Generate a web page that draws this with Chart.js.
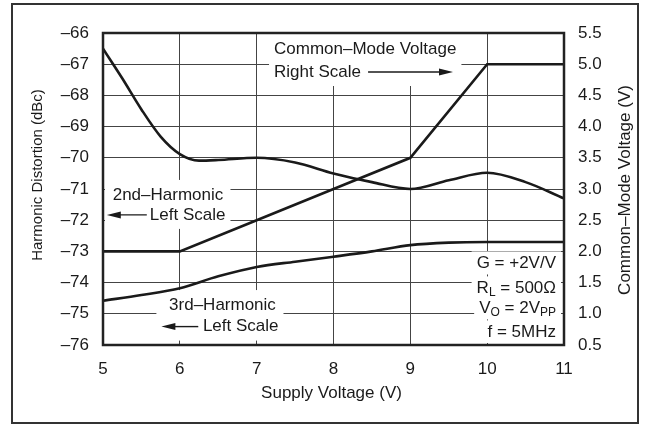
<!DOCTYPE html>
<html>
<head>
<meta charset="utf-8">
<script src="https://cdn.jsdelivr.net/npm/chart.js@4"></script>
<style>
  html, body { margin: 0; padding: 0; background: #fff; }
  #wrap { width: 645px; height: 425px; position: relative; }
</style>
</head>
<body>
<div id="wrap"><canvas id="chart"></canvas></div>
<script>
// supply voltage (V) vs. harmonic distortion (dBc, left) and common-mode voltage (V, right)
const h2X = [5, 5.25, 5.5, 5.75, 6, 6.25, 6.5, 7, 7.5, 8, 8.5, 9, 9.5, 10, 10.5, 11];
const h2Y = [-66.5, -67.45, -68.45, -69.32, -69.88, -70.09, -70.07, -70.0, -70.15, -70.5, -70.78, -71.0, -70.72, -70.48, -70.78, -71.3];

const h3X = [5, 5.5, 6, 6.5, 7, 7.5, 8, 8.5, 9, 9.5, 10, 10.5, 11];
const h3Y = [-74.58, -74.4, -74.18, -73.8, -73.5, -73.33, -73.17, -73.0, -72.8, -72.72, -72.7, -72.7, -72.7];

const cmX = [5, 6, 7, 8, 9, 10, 11];
const cmY = [2.0, 2.0, 2.5, 3.0, 3.5, 5.0, 5.0];

const xTicks = [5, 6, 7, 8, 9, 10, 11];
const leftTicks = [-76, -75, -74, -73, -72, -71, -70, -69, -68, -67, -66];
const rightTicks = [0.5, 1.0, 1.5, 2.0, 2.5, 3.0, 3.5, 4.0, 4.5, 5.0, 5.5];

const FAMILY = '"Liberation Sans", Arial, sans-serif';
const FONT = '17px ' + FAMILY;
const SUB_FONT = '12px ' + FAMILY;
const INK = '#1a1a1a';

// annotation blocks, positioned in data units (x, left scale)
const notes = [
  { lines: [
      { x: 7.226, y: -66.51, parts: [{ t: 'Common–Mode Voltage' }] },
      { x: 7.226, y: -67.25, parts: [{ t: 'Right Scale' }] }
    ],
    arrow: { from: 8.45, to: 9.555, y: -67.25 } },
  { lines: [
      { x: 5.126, y: -71.19, parts: [{ t: '2nd–Harmonic' }] },
      { x: 5.61, y: -71.83, parts: [{ t: 'Left Scale' }] }
    ],
    arrow: { from: 5.57, to: 5.05, y: -71.83 } },
  { lines: [
      { x: 5.86, y: -74.72, parts: [{ t: '3rd–Harmonic' }] },
      { x: 6.30, y: -75.41, parts: [{ t: 'Left Scale' }] }
    ],
    arrow: { from: 6.24, to: 5.76, y: -75.41 } },
  { lines: [{ x: 10.896, y: -73.37, right: true, parts: [{ t: 'G = +2V/V' }] }] },
  { lines: [{ x: 10.896, y: -74.17, right: true, parts: [{ t: 'R' }, { t: 'L', sub: true }, { t: ' = 500Ω' }] }] },
  { lines: [{ x: 10.896, y: -74.81, right: true, parts: [{ t: 'V' }, { t: 'O', sub: true }, { t: ' = 2V' }, { t: 'PP', sub: true }] }] },
  { lines: [{ x: 10.896, y: -75.58, right: true, parts: [{ t: 'f = 5MHz' }] }] }
];

function partsWidth(ctx, parts) {
  let w = 0;
  parts.forEach(p => {
    ctx.font = p.sub ? SUB_FONT : FONT;
    w += ctx.measureText(p.t).width;
  });
  return w;
}

const notesPlugin = {
  id: 'notes',
  beforeDraw(chart) {
    const ctx = chart.ctx;
    ctx.save();
    ctx.strokeStyle = '#333';
    ctx.lineWidth = 2;
    ctx.strokeRect(12, 4, 626, 419);
    ctx.restore();
  },
  beforeDatasetsDraw(chart) {
    const { ctx, chartArea: ca } = chart;
    const x = chart.scales.x, y = chart.scales.y;
    ctx.save();
    ctx.textBaseline = 'middle';
    notes.forEach(n => {
      let l = Infinity, r = -Infinity, t = Infinity, b = -Infinity;
      n.lines.forEach(ln => {
        ln._w = partsWidth(ctx, ln.parts);
        const px = x.getPixelForValue(ln.x);
        ln._l = ln.right ? px - ln._w : px;
        ln._y = y.getPixelForValue(ln.y);
        l = Math.min(l, ln._l); r = Math.max(r, ln._l + ln._w);
        t = Math.min(t, ln._y); b = Math.max(b, ln._y);
      });
      if (n.arrow) {
        const a0 = x.getPixelForValue(n.arrow.from), a1 = x.getPixelForValue(n.arrow.to);
        l = Math.min(l, a0, a1); r = Math.max(r, a0, a1);
      }
      const single = n.lines.length === 1;
      const x0 = Math.max(l - 5, ca.left + 2), x1 = Math.min(r + 5, ca.right - 2);
      const y0 = Math.max(t - (single ? 11.5 : 15), ca.top + 1);
      const y1 = Math.min(b + (single ? 11.5 : 14), ca.bottom - 2);
      ctx.fillStyle = '#fff';
      ctx.fillRect(x0, y0, x1 - x0, y1 - y0);

      ctx.fillStyle = INK;
      ctx.textAlign = 'left';
      n.lines.forEach(ln => {
        let cx = ln._l;
        ln.parts.forEach(p => {
          ctx.font = p.sub ? SUB_FONT : FONT;
          ctx.fillText(p.t, cx, ln._y + (p.sub ? 5 : 0));
          cx += ctx.measureText(p.t).width;
        });
      });

      if (n.arrow) {
        const a0 = x.getPixelForValue(n.arrow.from), a1 = x.getPixelForValue(n.arrow.to);
        const ay = y.getPixelForValue(n.arrow.y);
        const dir = a1 > a0 ? 1 : -1;
        ctx.strokeStyle = INK;
        ctx.lineWidth = 1.4;
        ctx.beginPath();
        ctx.moveTo(a0, ay);
        ctx.lineTo(a1 - dir * 8, ay);
        ctx.stroke();
        ctx.beginPath();
        ctx.moveTo(a1, ay);
        ctx.lineTo(a1 - dir * 14, ay - 3.5);
        ctx.lineTo(a1 - dir * 14, ay + 3.5);
        ctx.closePath();
        ctx.fill();
      }
    });
    ctx.restore();
  },
  afterDatasetsDraw(chart) {
    const { ctx, chartArea: ca } = chart;
    ctx.save();
    ctx.strokeStyle = '#222';
    ctx.lineWidth = 2.5;
    ctx.strokeRect(ca.left, ca.top, ca.right - ca.left, ca.bottom - ca.top);
    ctx.restore();
  },
  afterDraw(chart) {
    const { ctx, chartArea: ca } = chart;
    ctx.save();
    ctx.fillStyle = INK;
    ctx.font = FONT;
    ctx.textAlign = 'center';
    ctx.textBaseline = 'middle';
    ctx.fillText('Supply Voltage (V)', (ca.left + ca.right) / 2 - 2, 393);

    ctx.save();
    ctx.translate(38, 175);
    ctx.rotate(-Math.PI / 2);
    ctx.font = '15px ' + FAMILY;
    ctx.fillText('Harmonic Distortion (dBc)', 0, 0);
    ctx.restore();

    ctx.save();
    ctx.translate(625, 190);
    ctx.rotate(-Math.PI / 2);
    ctx.fillText('Common–Mode Voltage (V)', 0, 0);
    ctx.restore();
    ctx.restore();
  }
};

function fixedTicks(values) {
  return scale => { scale.ticks = values.map(v => ({ value: v })); };
}

const toPoints = (xs, ys) => xs.map((v, i) => ({ x: v, y: ys[i] }));

const lineStyle = {
  borderColor: INK,
  borderWidth: 2.6,
  pointRadius: 0,
  fill: false
};

const tickFont = { family: FAMILY, size: 17 };

new Chart(document.getElementById('chart'), {
  type: 'line',
  data: {
    datasets: [
      Object.assign({ label: '2nd-Harmonic', data: toPoints(h2X, h2Y), yAxisID: 'y', cubicInterpolationMode: 'monotone' }, lineStyle),
      Object.assign({ label: '3rd-Harmonic', data: toPoints(h3X, h3Y), yAxisID: 'y', cubicInterpolationMode: 'monotone' }, lineStyle),
      Object.assign({ label: 'Common-Mode Voltage', data: toPoints(cmX, cmY), yAxisID: 'y1', tension: 0 }, lineStyle)
    ]
  },
  options: {
    responsive: true,
    maintainAspectRatio: false,
    animation: false,
    events: [],
    layout: { padding: { top: 33, left: 0, right: 0, bottom: 0 } },
    plugins: {
      legend: { display: false },
      tooltip: { enabled: false }
    },
    scales: {
      x: {
        type: 'linear',
        min: 5,
        max: 11,
        afterBuildTicks: fixedTicks(xTicks),
        afterFit: s => { s.height = 80; },
        grid: { color: '#444', lineWidth: 1, drawTicks: false },
        border: { display: false },
        ticks: { color: INK, font: tickFont, padding: 14, maxRotation: 0 }
      },
      y: {
        position: 'left',
        min: -76,
        max: -66,
        afterBuildTicks: fixedTicks(leftTicks),
        afterFit: s => { s.width = 103; },
        grid: { color: '#444', lineWidth: 1, drawTicks: false },
        border: { display: false },
        ticks: {
          color: INK,
          font: tickFont,
          padding: 14,
          callback: v => String(v).replace('-', '–')
        }
      },
      y1: {
        position: 'right',
        min: 0.5,
        max: 5.5,
        afterBuildTicks: fixedTicks(rightTicks),
        afterFit: s => { s.width = 81; },
        grid: { drawOnChartArea: false, drawTicks: false },
        border: { display: false },
        ticks: {
          color: INK,
          font: tickFont,
          padding: 14,
          callback: v => v.toFixed(1)
        }
      }
    }
  },
  plugins: [notesPlugin]
});
</script>
</body>
</html>
